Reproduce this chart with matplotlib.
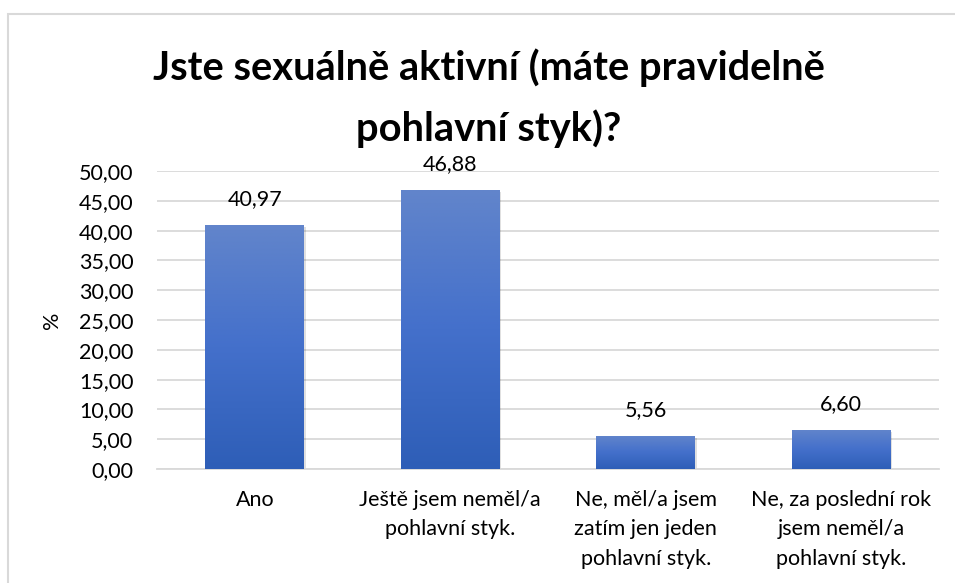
import matplotlib
matplotlib.use("Agg")  # headless backend

import numpy as np
import matplotlib.pyplot as plt
from matplotlib.colors import LinearSegmentedColormap
from matplotlib.patches import Rectangle

plt.rcParams["font.family"] = ["Lato", "DejaVu Sans"]

# data
categories = [
    "Ano",
    "Ještě jsem neměl/a\npohlavní styk.",
    "Ne, měl/a jsem\nzatím jen jeden\npohlavní styk.",
    "Ne, za poslední rok\njsem neměl/a\npohlavní styk.",
]
values = [40.97, 46.88, 5.56, 6.60]
yticks = [0, 5, 10, 15, 20, 25, 30, 35, 40, 45, 50]
title = "Jste sexuálně aktivní (máte pravidelně\npohlavní styk)?"

W, H = 955, 583
fig = plt.figure(figsize=(W / 100, H / 100), dpi=100)

# light frame of the chart area (cut off at right/bottom)
frame = Rectangle((8 / W, -0.1), 1.1, 1.1 - 14 / H, transform=fig.transFigure,
                  fill=False, edgecolor="#D9D9D9", linewidth=1.5)
fig.patches.append(frame)

left, right = 157 / W, 939 / W
bottom, top = 1 - 469 / H, 1 - 171 / H
ax = fig.add_axes([left, bottom, right - left, top - bottom])

x = np.arange(len(categories))
ax.set_xlim(-0.5, len(categories) - 0.5)
ax.set_ylim(0, 50)

cmap = LinearSegmentedColormap.from_list("bar", ["#2E5EB7", "#4470CB", "#6285CB"])
grad = np.linspace(0, 1, 256).reshape(-1, 1)
width = 0.505
fs = 15.5

for xi, v in zip(x, values):
    # soft shadow
    ax.add_patch(Rectangle((xi - width / 2 + 0.008, -0.35), width, v,
                           facecolor="#000000", alpha=0.12, edgecolor="none",
                           zorder=2))
    bar = ax.bar(xi, v, width=width, color="none", edgecolor="none", zorder=3)[0]
    im = ax.imshow(grad, cmap=cmap, aspect="auto", origin="lower",
                   extent=(xi - width / 2, xi + width / 2, 0, v), zorder=3)
    im.set_clip_path(bar)
    ax.annotate(f"{v:.2f}".replace(".", ","), (xi, v), xytext=(0, 11),
                textcoords="offset points", ha="center", va="bottom",
                fontsize=fs, color="#000000")

ax.set_yticks(yticks)
ax.set_yticklabels([f"{t:.2f}".replace(".", ",") for t in yticks], fontsize=fs)
ax.set_xticks(x)
ax.set_xticklabels(categories, fontsize=fs, linespacing=1.6, va="top")
ax.tick_params(axis="both", length=0, colors="#000000")
ax.tick_params(axis="y", pad=17)
ax.tick_params(axis="x", pad=15)

ax.grid(axis="y", color="#D9D9D9", linewidth=1.3)
ax.set_axisbelow(True)
for s in ["top", "right", "left"]:
    ax.spines[s].set_visible(False)
ax.spines["bottom"].set_color("#D9D9D9")
ax.spines["bottom"].set_linewidth(1.3)

ax.set_ylabel("%", fontsize=fs, labelpad=12)

fig.text(489 / W, 1 - 98 / H, title, ha="center", va="center",
         fontsize=28.7, fontweight="bold", linespacing=1.7)

plt.savefig("out.png", dpi=100)
plt.close()
